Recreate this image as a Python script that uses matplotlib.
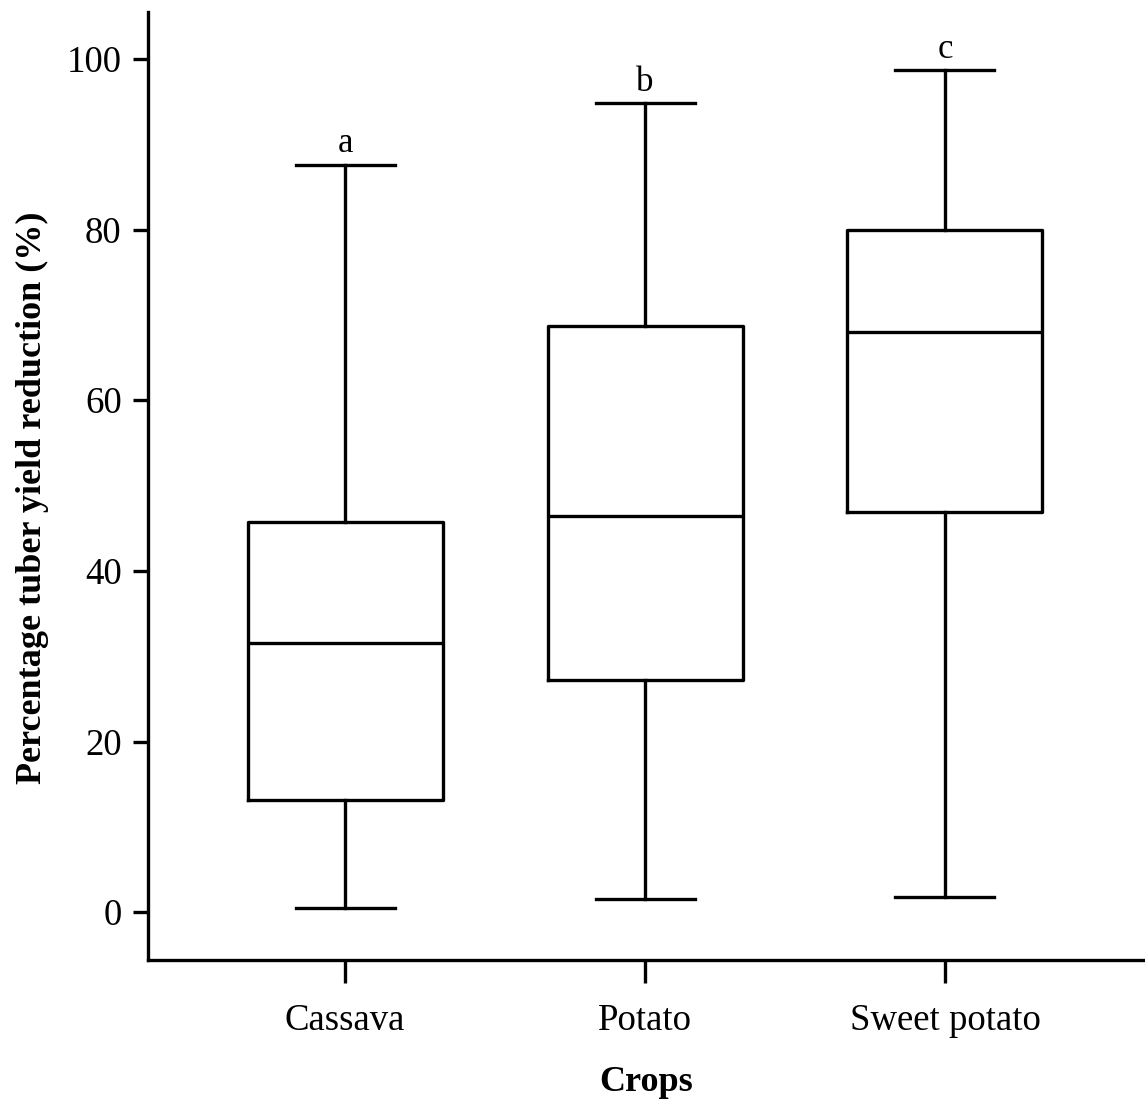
import matplotlib
matplotlib.use("Agg")
import matplotlib.pyplot as plt

# valores
crops = ["Cassava", "Potato", "Sweet potato"]
whislo = [0.5, 1.6, 1.8]
q1 = [13.2, 27.2, 46.9]
med = [31.5, 46.4, 68.0]
q3 = [45.7, 68.7, 80.0]
whishi = [87.6, 94.8, 98.7]
letras = ["a", "b", "c"]

plt.rcParams["font.family"] = ["Liberation Serif", "DejaVu Serif"]

fig = plt.figure(figsize=(11.45, 11.01), dpi=100)
ax = fig.add_axes([0.1293, 0.1281, 0.8707, 0.8610])

stats = []
for i in range(len(crops)):
    stats.append({"label": crops[i], "whislo": whislo[i], "q1": q1[i], "med": med[i],
                  "q3": q3[i], "whishi": whishi[i], "fliers": []})

lw = 2.4
ax.bxp(stats, positions=[1, 2, 3], widths=0.65, showfliers=False,
       boxprops=dict(color="black", linewidth=lw),
       medianprops=dict(color="black", linewidth=lw),
       whiskerprops=dict(color="black", linewidth=lw),
       capprops=dict(color="black", linewidth=lw),
       capwidths=0.33)

# letras de significancia
for i in range(len(crops)):
    ax.text(i + 1, whishi[i] + 0.5, letras[i], ha="center", va="bottom", fontsize=25)

ax.set_xlim(0.343, 3.667)
ax.set_ylim(-5.6, 105.5)
ax.set_yticks([0, 20, 40, 60, 80, 100])
ax.set_xticks([1, 2, 3])
ax.set_xticklabels(crops)

for s in ["top", "right"]:
    ax.spines[s].set_visible(False)
ax.spines["left"].set_linewidth(lw)
ax.spines["bottom"].set_linewidth(lw)

ax.tick_params(axis="y", length=11, width=lw, labelsize=26.5, pad=8)
ax.tick_params(axis="x", length=16.5, width=lw, labelsize=26.5, pad=15)

ax.set_ylabel("Percentage tuber yield reduction (%)", fontsize=26, fontweight="bold")
ax.yaxis.set_label_coords(-0.099, 0.488)
ax.set_xlabel("Crops", fontsize=26, fontweight="bold", labelpad=20)

plt.savefig("out.png", dpi=100)
